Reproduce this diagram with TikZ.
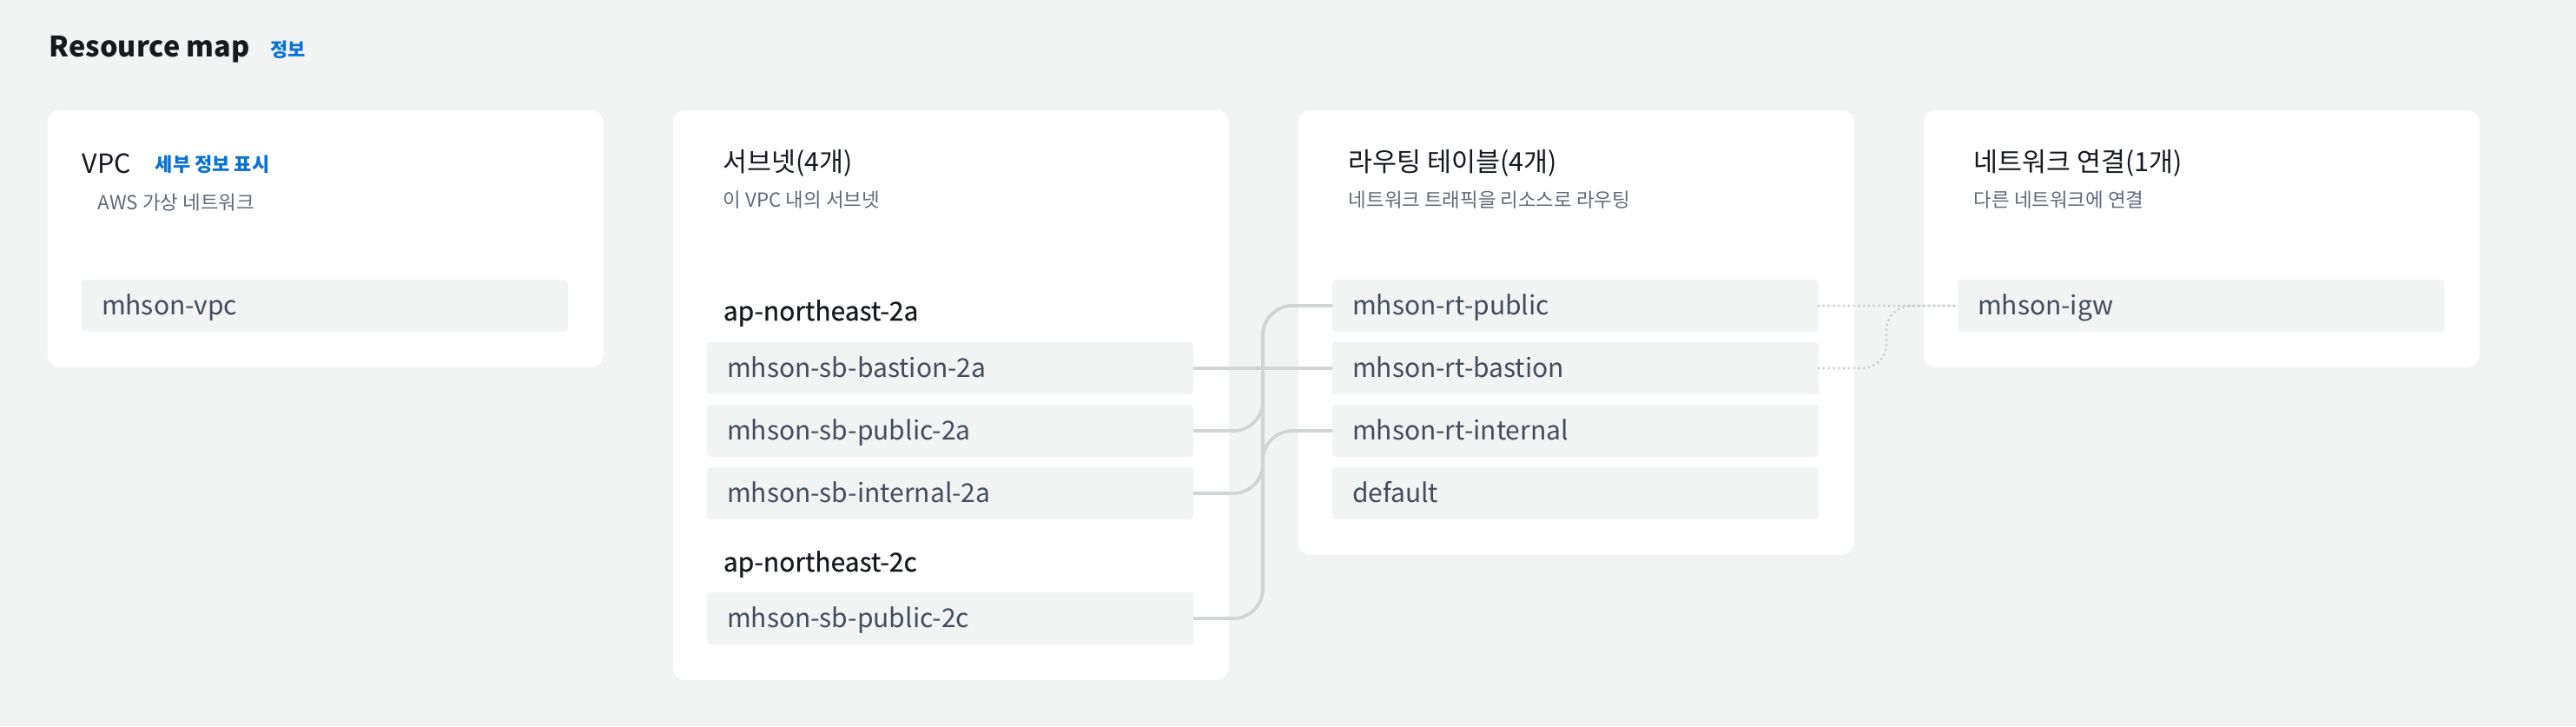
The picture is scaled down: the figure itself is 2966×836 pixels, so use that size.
\documentclass[tikz,border=0pt]{standalone}
\usepackage{fontspec}
\setmainfont{Noto Sans CJK KR}
\newfontfamily\zonefont[FakeBold=0.6]{Noto Sans CJK KR}
\usepackage{tikz}
\usetikzlibrary{positioning}
\definecolor{pagebg}{HTML}{F2F3F3}
\definecolor{itembg}{HTML}{F2F3F3}
\definecolor{inkdark}{HTML}{16191F}
\definecolor{inkitem}{HTML}{414D5C}
\definecolor{inkgray}{HTML}{5F6B7A}
\definecolor{infoblue}{HTML}{0972D3}
\definecolor{wiregray}{HTML}{D1D5D5}
\definecolor{dotgray}{HTML}{C9CFCF}
\tikzstyle{cardbox} = [fill=white,rounded corners=3.5pt,anchor=north west,minimum width=160pt,inner sep=0]
\tikzstyle{itembox} = [fill=itembg,rounded corners=1pt,anchor=north west,minimum height=15pt,text width=128.5pt,inner xsep=5.75pt,inner ysep=0,outer sep=0,align=left,text height=6.5pt,text depth=1.5pt,font=\fontsize{7.5}{9}\selectfont,text=inkitem]
\tikzstyle{titletext} = [anchor=base west,inner sep=0,font=\bfseries\fontsize{8.1}{10}\selectfont,text=inkdark]
\tikzstyle{headtext} = [anchor=west,inner sep=0,font=\fontsize{7.6}{9}\selectfont,text=inkdark]
\tikzstyle{subtext} = [anchor=west,inner sep=0,font=\fontsize{5.6}{7}\selectfont,text=inkgray]
\tikzstyle{zonetext} = [anchor=base west,inner sep=0,font=\zonefont\fontsize{7.5}{9}\selectfont,text=inkdark]
\tikzstyle{infotext} = [inner sep=0,font=\bfseries\fontsize{5.5}{6.5}\selectfont,text=infoblue]
\tikzstyle{wire} = [-,line width=0.95pt,draw=wiregray,rounded corners=8.5pt]
\tikzstyle{dotwire} = [-,line width=0.8pt,draw=dotgray,line cap=round,dash pattern=on 0pt off 1.45pt,rounded corners=7pt]
\begin{document}
\begin{tikzpicture}[x=0.25pt,y=-0.25pt, node distance=3pt]
      \fill[pagebg] (0,0) rectangle (2966,836);
      \node[titletext] (title) at (56,65) {Resource map};
      \node[infotext,anchor=base west] (titleinfo) at ([xshift=5.5pt]title.base east) {정보};
      % cards
      \node[cardbox,minimum height=74pt]  (vpccard) at (54,126) {};
      \node[cardbox,minimum height=164pt] (sbcard)  at (774,126) {};
      \node[cardbox,minimum height=128pt] (rtcard)  at (1494,126) {};
      \node[cardbox,minimum height=74pt]  (gwcard)  at (2214,126) {};
      % VPC
      \node[headtext] (vpchead) at (94,188) {VPC};
      \node[infotext,anchor=west] (vpcinfo) at (178,189) {세부 정보 표시};
      \node[subtext] (vpcsub) at (112,233) {AWS 가상 네트워크};
      \node[itembox] (vpc) at (94,322) {mhson-vpc};
      % subnets
      \node[headtext] (sbhead) at (832,188) {서브넷(4개)};
      \node[subtext] (sbsub) at (832,230) {이 VPC 내의 서브넷};
      \node[zonetext] (zonea) at (832,369) {ap-northeast-2a};
      \node[itembox] (sbbas) at (814,394) {mhson-sb-bastion-2a};
      \node[itembox,below=of sbbas] (sbpub) {mhson-sb-public-2a};
      \node[itembox,below=of sbpub] (sbint) {mhson-sb-internal-2a};
      \node[zonetext] (zonec) at (832,658) {ap-northeast-2c};
      \node[itembox] (sbpubc) at (814,682) {mhson-sb-public-2c};
      % route tables
      \node[headtext] (rthead) at (1552,188) {라우팅 테이블(4개)};
      \node[subtext] (rtsub) at (1552,230) {네트워크 트래픽을 리소스로 라우팅};
      \node[itembox] (rtpub) at (1534,322) {mhson-rt-public};
      \node[itembox,below=of rtpub] (rtbas) {mhson-rt-bastion};
      \node[itembox,below=of rtbas] (rtint) {mhson-rt-internal};
      \node[itembox,below=of rtint] (rtdef) {default};
      % network connections
      \node[headtext] (gwhead) at (2272,188) {네트워크 연결(1개)};
      \node[subtext] (gwsub) at (2272,230) {다른 네트워크에 연결};
      \node[itembox] (igw) at (2254,322) {mhson-igw};
      % links
      \coordinate (bus) at (1454,0);
      \coordinate (gwbus) at (2172,0);
      \draw[wire] (sbbas.east) -- (rtbas.west);
      \draw[wire] (sbpub.east) -| (bus |- rtpub.west) -- (rtpub.west);
      \draw[wire] (sbint.east) -| (bus |- rtint.west) -- (rtint.west);
      \draw[wire] (sbpubc.east) -| (bus |- rtpub.west) -- (rtpub.west);
      \draw[dotwire] (rtpub.east) -- (igw.west);
      \draw[dotwire] (rtbas.east) -| (gwbus |- igw.west) -- (igw.west);
\end{tikzpicture}
\end{document}
